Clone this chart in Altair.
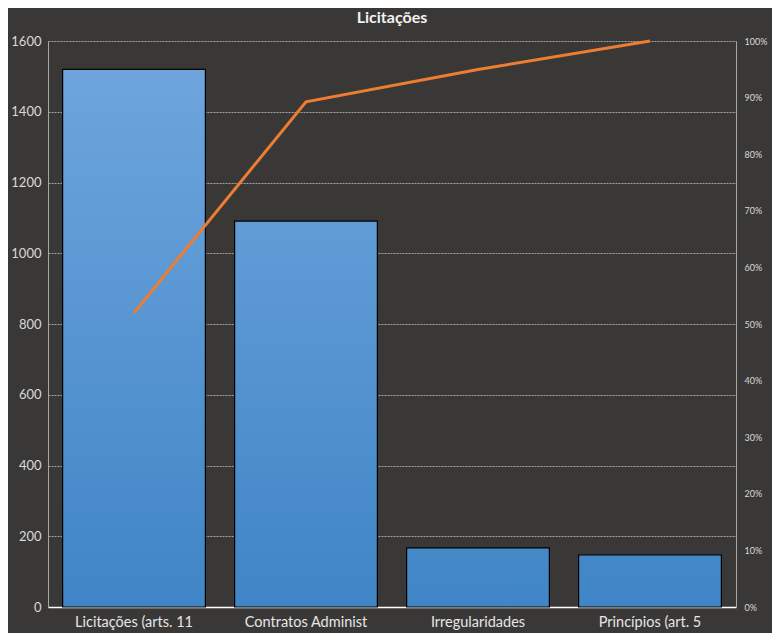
import altair as alt
import pandas as pd

categories = ["Licitações (arts. 11", "Contratos Administ", "Irregularidades", "Princípios (art. 5"]
counts = [1520, 1091, 167, 147]

total = sum(counts)
cum = []
run = 0
for c in counts:
    run += c
    cum.append(run / total)

df = pd.DataFrame({"cat": categories, "n": counts, "cum": cum})

FONT = "Lato"
BG = "#3a3837"
TOP = (112, 167, 222)
BOT = (64, 133, 198)
YMAX = 1600


def hexc(rgb):
    return "#%02x%02x%02x" % tuple(int(round(v)) for v in rgb)


def lerp(a, b, t):
    return tuple(a[i] + (b[i] - a[i]) * t for i in range(3))


conds = []
for cat, n in zip(categories, counts):
    t = n / YMAX
    grad = {
        "gradient": "linear", "x1": 0, "y1": 0, "x2": 0, "y2": 1,
        "stops": [{"offset": 0, "color": hexc(lerp(BOT, TOP, t))},
                  {"offset": 1, "color": hexc(BOT)}],
    }
    conds.append({"test": f"datum.cat === {cat!r}".replace("'", '"'), "value": grad})

x = alt.X("cat:N", sort=categories, title=None,
          scale=alt.Scale(paddingInner=0.17, paddingOuter=0.085),
          axis=alt.Axis(labelAngle=0, labelFontSize=14.5, labelColor="#e6e6e6", labelFont=FONT,
                        domainColor="#ffffff", domainWidth=1.5, ticks=False, labelPadding=8))

bars = alt.Chart(df).mark_bar(stroke="#000000", strokeWidth=1.2).encode(
    x=x,
    y=alt.Y("n:Q", title=None, scale=alt.Scale(domain=[0, 1600]),
            axis=alt.Axis(values=list(range(0, 1601, 200)), format="d", labelFontSize=13,
                          labelColor="#d9d9d9",
                          labelFont=FONT, ticks=False, labelPadding=7, domainColor="#a6a6a6",
                          grid=True, gridColor="#bfbfbf", gridDash=[2, 1], gridWidth=0.8)),
    fill={"condition": conds, "value": hexc(BOT)},
)

line = alt.Chart(df).mark_line(color="#ed7d31", strokeWidth=3).encode(
    x=alt.X("cat:N", sort=categories),
    y=alt.Y("cum:Q", title=None, scale=alt.Scale(domain=[0, 1]),
            axis=alt.Axis(orient="right", format=".0%", values=[i / 10 for i in range(11)],
                          labelFontSize=9, labelColor="#d9d9d9", labelFont=FONT, ticks=False,
                          labelPadding=8, domainColor="#a6a6a6", grid=False)),
)

chart = alt.layer(bars, line).resolve_scale(y="independent").properties(
    width=688, height=566,
    background=BG,
    autosize=alt.AutoSizeParams(type="none"),
    padding={"left": 40, "top": 33, "right": 36, "bottom": 26},
    title=alt.TitleParams("Licitações", fontSize=16, fontWeight="bold", color="#f2f2f2",
                          font=FONT, anchor="middle", offset=9),
).configure_view(stroke=None)

chart.save("out.html", embed_options={"renderer": "svg", "actions": False})
